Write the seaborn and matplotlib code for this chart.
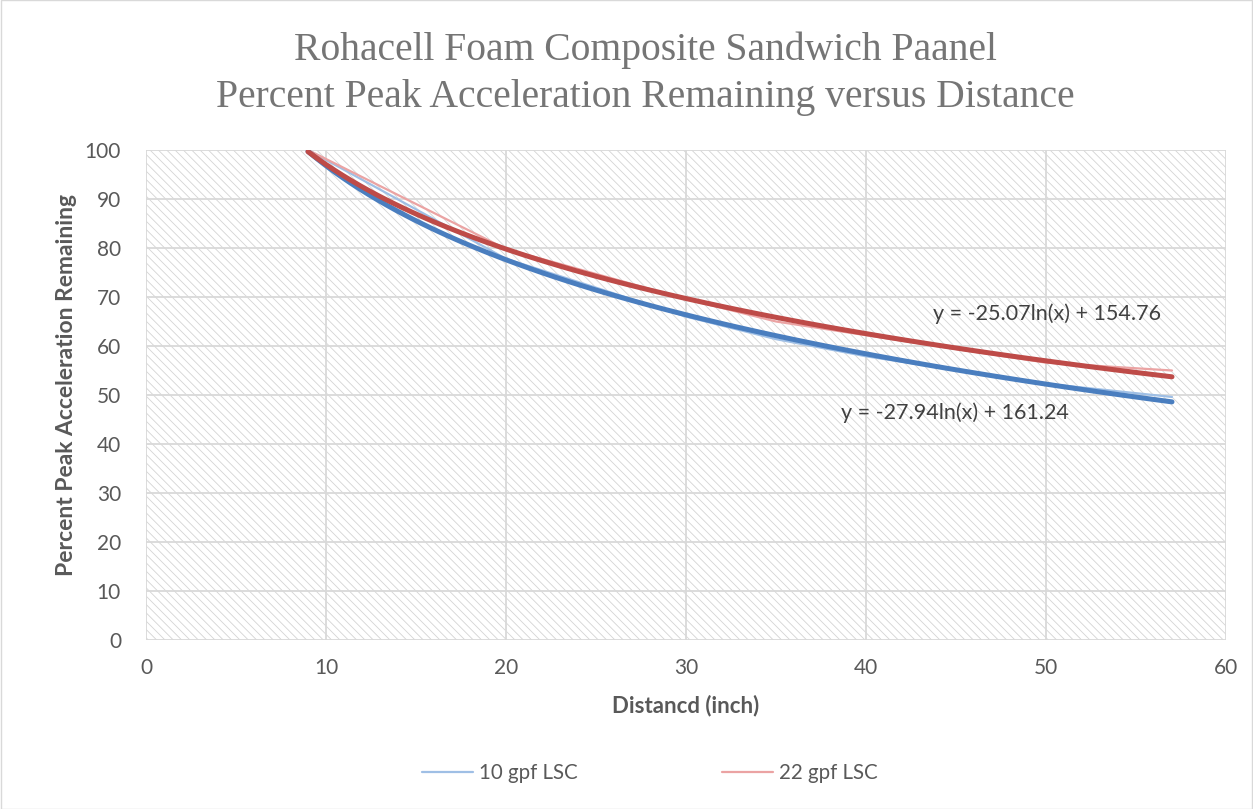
import numpy as np
import matplotlib
matplotlib.use("Agg")
import matplotlib.pyplot as plt
import seaborn as sns
from matplotlib.patches import Rectangle

# Distance (inch) vs percent peak acceleration remaining
distance = [9, 20, 30, 35, 40, 50, 57]
pct_10gpf = [100, 77.8, 66.0, 61.4, 57.9, 52.3, 49.6]
pct_22gpf = [100, 79.8, 69.6, 65.0, 62.2, 56.6, 55.0]

series_names = ["10 gpf LSC", "22 gpf LSC"]
trend_labels = ["y = -27.94ln(x) + 161.24", "y = -25.07ln(x) + 154.76"]

x_ticks = [0, 10, 20, 30, 40, 50, 60]
y_ticks = [0, 10, 20, 30, 40, 50, 60, 70, 80, 90, 100]

# Set plot style
sns.set_theme(style="white")
plt.rcParams['font.family'] = ['Lato', 'DejaVu Sans']
plt.rcParams['hatch.linewidth'] = 0.6

raw_colors = ['#9fbfe5', '#eba3a3']
trend_colors = ['#4a7ebf', '#be4b48']
text_gray = '#595959'
grid_gray = '#d9d9d9'

fig = plt.figure(figsize=(12.53, 8.09), dpi=100)
ax = fig.add_axes([146 / 1253, 1 - 640 / 809, 1080 / 1253, 490 / 809])

# hatched plot area background
ax.add_patch(Rectangle((0, 0), 1, 1, transform=ax.transAxes, facecolor='white',
                       edgecolor='#d4d4d4', hatch='\\\\\\\\', linewidth=0, zorder=0))

raw_lines = []
for y, c, name in zip([pct_10gpf, pct_22gpf], raw_colors, series_names):
    sns.lineplot(x=distance, y=y, color=c, linewidth=1.6, ax=ax, zorder=3)
    raw_lines.append(ax.lines[-1])

# logarithmic trendlines
for y, c in zip([pct_10gpf, pct_22gpf], trend_colors):
    sns.regplot(x=distance, y=y, logx=True, ci=None, scatter=False, ax=ax,
                line_kws=dict(color=c, linewidth=3.6, zorder=4))

ax.text(38.6, 46.3, trend_labels[0], fontsize=15.5, color='#404040', va='center', ha='left')
ax.text(43.7, 66.5, trend_labels[1], fontsize=15.5, color='#404040', va='center', ha='left')

ax.set_xlim(0, 60)
ax.set_ylim(0, 100)
ax.set_xticks(x_ticks)
ax.set_yticks(y_ticks)
ax.grid(True, color=grid_gray, linewidth=1.3)
ax.set_axisbelow(True)
for s in ax.spines.values():
    s.set_visible(False)
ax.tick_params(axis='both', length=0, labelsize=15, labelcolor=text_gray)
ax.tick_params(axis='x', pad=13)
ax.tick_params(axis='y', pad=18)

ax.set_xlabel('Distancd (inch)', fontsize=16, fontweight='bold', color=text_gray, labelpad=12)
ax.set_ylabel('Percent Peak Acceleration Remaining', fontsize=16.5, fontweight='bold',
              color=text_gray)
ax.yaxis.set_label_coords(-0.064, 0.52)

title_font = dict(family='Liberation Serif', fontsize=28.5, color='#757575', ha='center', va='center')
fig.text(645 / 1253, 1 - 50 / 809, 'Rohacell Foam Composite Sandwich Paanel', **title_font)
fig.text(645 / 1253, 1 - 97 / 809, 'Percent Peak Acceleration Remaining versus Distance', **title_font)

fig.legend(raw_lines, series_names, loc='center', bbox_to_anchor=(650 / 1253, 1 - 773 / 809),
           ncol=2, frameon=False, fontsize=14.8, handlelength=2.5, handletextpad=0.3,
           columnspacing=7.0, labelcolor=text_gray)

# light border around the whole chart
fig.patches.append(Rectangle((0.0005, 0.0005), 0.999, 0.999, transform=fig.transFigure,
                             fill=False, edgecolor='#d9d9d9', linewidth=1))

fig.savefig('out.png', dpi=100)
plt.close(fig)
